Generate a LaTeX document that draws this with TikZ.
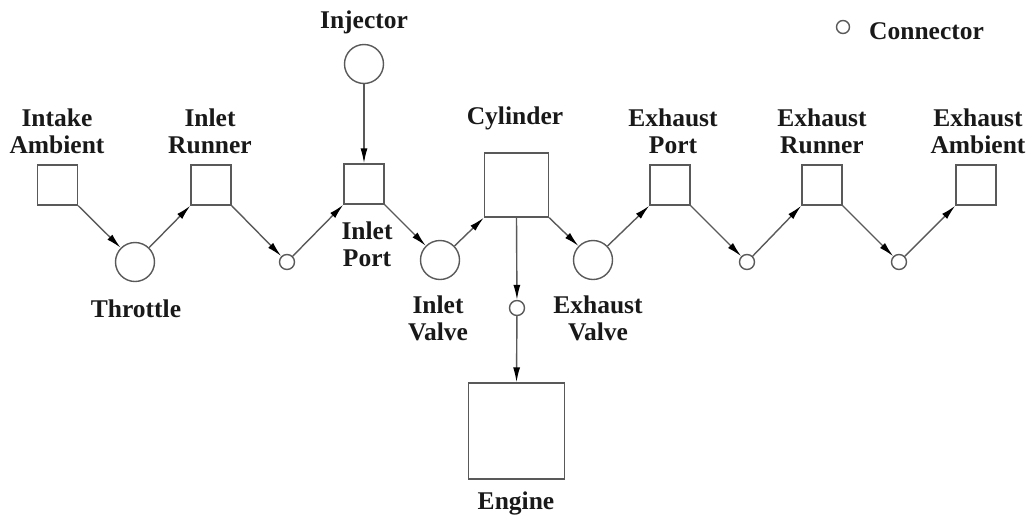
\documentclass[tikz,border=0pt]{standalone}
\usepackage{fontspec}
\setmainfont{Liberation Serif}
\usetikzlibrary{arrows.meta}
\definecolor{linegray}{gray}{0.35}
\tikzset{
  blk/.style={draw=linegray, line width=1.4pt, minimum size=40pt, inner sep=0pt},
  vlv/.style={circle, draw=linegray, line width=1.4pt, minimum size=39pt, inner sep=0pt},
  conn/.style={circle, draw=linegray, line width=1.4pt, minimum size=15pt, inner sep=0pt},
  lbl/.style={font=\fontsize{25.5}{27}\selectfont\bfseries, align=center, text=black!90, inner sep=0pt},
  flow/.style={draw=linegray, line width=1.4pt, -{Latex[length=15pt,width=7pt,black]}},
}
\begin{document}
\begin{tikzpicture}[x=1pt,y=1pt]
    \useasboundingbox (0,0) rectangle (1031,-520);

    % Intake side
    \node[blk] (iamb) at (57.5,-185) {};
    \node[vlv] (thr) at (135,-262) {};
    \node[blk] (irun) at (211,-185) {};
    \node[conn] (c1) at (287,-262) {};
    \node[blk] (iport) at (364,-184) {};
    \node[vlv] (inj) at (364,-64) {};
    \node[vlv] (ivlv) at (440,-260) {};

    % Cylinder and engine
    \node[blk, minimum size=64pt] (cyl) at (516.5,-185) {};
    \node[conn] (c2) at (517,-308) {};
    \node[blk, minimum size=96pt] (eng) at (516.5,-431) {};

    % Exhaust side
    \node[vlv] (evlv) at (593,-260) {};
    \node[blk] (eport) at (670,-185) {};
    \node[conn] (c3) at (747,-262) {};
    \node[blk] (erun) at (822,-185) {};
    \node[conn] (c4) at (899,-262) {};
    \node[blk] (eamb) at (976,-185) {};

    % Labels
    \node[lbl] (liamb) at (57,-131) {Intake\\Ambient};
    \node[lbl] (lirun) at (210,-131) {Inlet\\Runner};
    \node[lbl] (linj) at (364,-22) {Injector};
    \node[lbl] (lcyl) at (515,-118) {Cylinder};
    \node[lbl] (lthr) at (136,-309) {Throttle};
    \node[lbl] (liport) at (367,-244) {Inlet\\Port};
    \node[lbl] (livlv) at (438,-318) {Inlet\\Valve};
    \node[lbl] (levlv) at (598,-318) {Exhaust\\Valve};
    \node[lbl] (leng) at (516,-503) {Engine};
    \node[lbl] (leport) at (673,-131) {Exhaust\\Port};
    \node[lbl] (lerun) at (822,-131) {Exhaust\\Runner};
    \node[lbl] (leamb) at (978,-131) {Exhaust\\Ambient};

    % Legend
    \node[conn, minimum size=13pt] (leg) at (843,-27) {};
    \node[lbl, anchor=west] (lleg) at (869,-31) {Connector};

    % Flow path
    \draw[flow] (iamb.south east) -- (thr);
    \draw[flow] (thr) -- (irun.south west);
    \draw[flow] (irun.south east) -- (c1);
    \draw[flow] (c1) -- (iport.south west);
    \draw[flow] (inj) -- (iport.north);
    \draw[flow] (iport.south east) -- (ivlv);
    \draw[flow] (ivlv) -- (cyl.south west);
    \draw[flow] (cyl.south east) -- (evlv);
    \draw[flow] (evlv) -- (eport.south west);
    \draw[flow] (eport.south east) -- (c3);
    \draw[flow] (c3) -- (erun.south west);
    \draw[flow] (erun.south east) -- (c4);
    \draw[flow] (c4) -- (eamb.south west);
    \draw[flow] (cyl.south) -- (c2);
    \draw[flow] (c2) -- (eng.north);
\end{tikzpicture}
\end{document}
